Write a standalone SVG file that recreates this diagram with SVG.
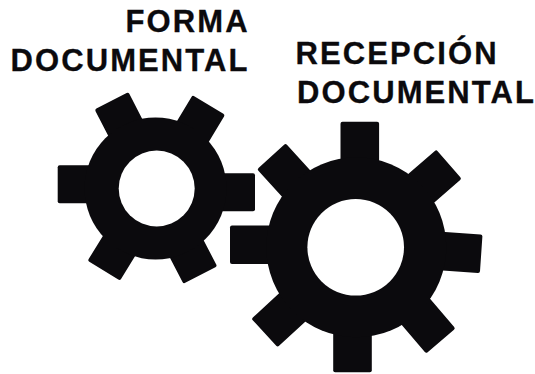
<svg xmlns="http://www.w3.org/2000/svg" width="535" height="374" viewBox="0 0 535 374">
<style>
.g{fill:#0b0a0d}
.t{font-family:"Liberation Sans",Arial,sans-serif;font-weight:700;font-size:31px;fill:#0b0a0d;stroke:#0b0a0d;stroke-width:.3px;letter-spacing:2.1px}
</style>
<defs>
<rect id="ts" class="g" x="-19" y="0" width="38" height="42" rx="2"/>
<rect id="tl" class="g" x="-19.3" y="0" width="38.6" height="50" rx="2"/>
</defs>
<rect width="535" height="374" fill="#fff"/>
<g id="gear-small">
<use href="#ts" transform="translate(111.5 100.8) rotate(-27.3)"/>
<use href="#ts" transform="translate(208.8 105) rotate(31)"/>
<use href="#ts" transform="translate(255 192.2) rotate(90)"/>
<use href="#ts" transform="translate(200.3 275) rotate(152.5)"/>
<use href="#ts" transform="translate(103.8 270.7) rotate(-148.4)"/>
<use href="#ts" transform="translate(57.7 184.3) rotate(-90)"/>
<circle class="g" cx="155.5" cy="188.5" r="71"/>
<circle cx="156.7" cy="188.5" r="38" fill="#fff"/>
</g>
<g id="gear-large">
<use href="#tl" transform="translate(359.8 121.7)"/>
<use href="#tl" transform="translate(449 164.2) rotate(49)"/>
<use href="#tl" transform="translate(481.2 253.8) rotate(93.9)"/>
<use href="#tl" transform="translate(440.8 341) rotate(139.5)"/>
<use href="#tl" transform="translate(352.5 372.3) rotate(180)"/>
<use href="#tl" transform="translate(264.5 333) rotate(-132.7)"/>
<use href="#tl" transform="translate(230 244.7) rotate(-90)"/>
<use href="#tl" transform="translate(271.3 156.3) rotate(-42.3)"/>
<circle class="g" cx="356.3" cy="247.3" r="90"/>
<circle cx="355.7" cy="247.3" r="48.3" fill="#fff"/>
</g>
<g id="labels">
<text class="t" x="125.5" y="31.5">FORMA</text>
<text class="t" x="10.5" y="70.5">DOCUMENTAL</text>
<text class="t" x="295.5" y="64">RECEPCIÓN</text>
<text class="t" x="297" y="103">DOCUMENTAL</text>
</g>
<g id="connectors"/>
</svg>
